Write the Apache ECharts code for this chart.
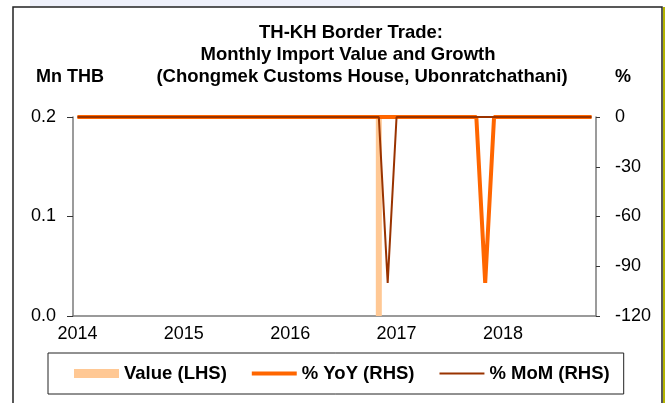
<!DOCTYPE html>
<html>
<head>
<meta charset="utf-8">
<script src="https://cdn.jsdelivr.net/npm/echarts@6/dist/echarts.min.js"></script>
<style>
  html, body { margin: 0; padding: 0; background: #fff; }
  #chart { width: 667px; height: 403px; }
</style>
</head>
<body>
<div id="chart"></div>
<script>
// months Jan 2014 .. Nov 2018
var years = ['2014', '2015', '2016', '2017', '2018'];
var months = [];
years.forEach(function (y) {
  for (var m = 1; m <= 12; m++) {
    if (y === '2018' && m > 11) break;
    months.push(y + '-' + (m < 10 ? '0' + m : m));
  }
});

// Value (LHS), Mn THB
var valueLHS = [
  0, 0, 0, 0, 0, 0, 0, 0, 0, 0, 0, 0,
  0, 0, 0, 0, 0, 0, 0, 0, 0, 0, 0, 0,
  0, 0, 0, 0, 0, 0, 0, 0, 0, 0, 0.2, 0,
  0, 0, 0, 0, 0, 0, 0, 0, 0, 0, 0, 0,
  0, 0, 0, 0, 0, 0, 0, 0, 0, 0, 0
];
// % YoY (RHS)
var yoyRHS = [
  0, 0, 0, 0, 0, 0, 0, 0, 0, 0, 0, 0,
  0, 0, 0, 0, 0, 0, 0, 0, 0, 0, 0, 0,
  0, 0, 0, 0, 0, 0, 0, 0, 0, 0, 0, 0,
  0, 0, 0, 0, 0, 0, 0, 0, 0, 0, -100, 0,
  0, 0, 0, 0, 0, 0, 0, 0, 0, 0, 0
];
// % MoM (RHS)
var momRHS = [
  0, 0, 0, 0, 0, 0, 0, 0, 0, 0, 0, 0,
  0, 0, 0, 0, 0, 0, 0, 0, 0, 0, 0, 0,
  0, 0, 0, 0, 0, 0, 0, 0, 0, 0, 0, -100,
  0, 0, 0, 0, 0, 0, 0, 0, 0, 0, 0, 0,
  0, 0, 0, 0, 0, 0, 0, 0, 0, 0, 0
];

var font = 'Liberation Sans, Arial, sans-serif';
var axisGray = '#7a7a7a';
// legend line icons: thin invisible points at top/bottom keep the box 45x9
var thickLine = 'path://M0,0L45,0L45,0.01ZM0,2.5L45,2.5L45,6.5L0,6.5ZM0,9L45,9L45,9.01Z';
var thinLine = 'path://M0,0L45,0L45,0.01ZM0,3.5L45,3.5L45,5.5L0,5.5ZM0,9L45,9L45,9.01Z';

var myChart = echarts.init(document.getElementById('chart'));
var option = {
  animation: false,
  backgroundColor: '#fff',
  textStyle: { fontFamily: font },
  graphic: [
    { type: 'rect', shape: { x: 30, y: 0, width: 330, height: 7 }, style: { fill: '#eef0fa' }, silent: true },
    { type: 'rect', shape: { x: 13, y: 7, width: 649, height: 410 }, style: { fill: null, stroke: '#222', lineWidth: 1.5 }, silent: true },
    { type: 'line', shape: { x1: 664, y1: 7, x2: 664, y2: 403 }, style: { stroke: '#b3b300', lineWidth: 2 }, silent: true },
    { type: 'text', x: 351, y: 33, style: { text: 'TH-KH Border Trade:', font: 'bold 18.5px ' + font, fill: '#000', textAlign: 'center', textVerticalAlign: 'middle' } },
    { type: 'text', x: 348, y: 55, style: { text: 'Monthly Import Value and Growth', font: 'bold 18.5px ' + font, fill: '#000', textAlign: 'center', textVerticalAlign: 'middle' } },
    { type: 'text', x: 362, y: 77, style: { text: '(Chongmek Customs House, Ubonratchathani)', font: 'bold 18.5px ' + font, fill: '#000', textAlign: 'center', textVerticalAlign: 'middle' } },
    { type: 'text', x: 36, y: 77, style: { text: 'Mn THB', font: 'bold 18px ' + font, fill: '#000', textAlign: 'left', textVerticalAlign: 'middle' } },
    { type: 'text', x: 615, y: 77, style: { text: '%', font: 'bold 18px ' + font, fill: '#000', textAlign: 'left', textVerticalAlign: 'middle' } }
  ],
  legend: {
    left: 48,
    top: 353,
    padding: [11, 14, 11, 26],
    borderColor: '#222',
    borderWidth: 1,
    itemWidth: 45,
    itemHeight: 9,
    itemGap: 25,
    textStyle: { fontSize: 18.5, fontWeight: 'bold', color: '#000', fontFamily: font },
    data: [
      { name: 'Value (LHS)', icon: 'rect' },
      { name: '% YoY (RHS)', icon: thickLine },
      { name: '% MoM (RHS)', icon: thinLine }
    ]
  },
  grid: { left: 73, right: 71, top: 117, bottom: 87, containLabel: false },
  xAxis: {
    type: 'category',
    data: months,
    boundaryGap: true,
    axisLine: { lineStyle: { color: axisGray, width: 1.5 } },
    axisTick: {
      length: 5,
      interval: function (i) { return i % 12 === 0; },
      lineStyle: { color: '#333' }
    },
    axisLabel: {
      interval: function (i) { return i % 12 === 0; },
      formatter: function (v) { return v.slice(0, 4); },
      color: '#000',
      fontSize: 18,
      margin: 9
    },
    splitLine: { show: false }
  },
  yAxis: [{
    type: 'value',
    position: 'left',
    min: 0,
    max: 0.2,
    interval: 0.1,
    axisLine: { show: true, lineStyle: { color: axisGray, width: 1.5 } },
    axisTick: { show: true, length: 6, lineStyle: { color: '#333' } },
    axisLabel: {
      formatter: function (v) { return v.toFixed(1); },
      color: '#000',
      fontSize: 18,
      margin: 17
    },
    splitLine: { show: false }
  }, {
    type: 'value',
    position: 'right',
    min: -120,
    max: 0,
    interval: 30,
    axisLine: { show: true, lineStyle: { color: axisGray, width: 1.5 } },
    axisTick: { show: true, length: 4, lineStyle: { color: '#333' } },
    axisLabel: { color: '#000', fontSize: 18, margin: 19 },
    splitLine: { show: false }
  }],
  series: [{
    name: 'Value (LHS)',
    type: 'bar',
    yAxisIndex: 0,
    barWidth: 6,
    itemStyle: { color: '#ffc894' },
    data: valueLHS
  }, {
    name: '% YoY (RHS)',
    type: 'line',
    yAxisIndex: 1,
    symbol: 'none',
    lineStyle: { color: '#ff6600', width: 4 },
    itemStyle: { color: '#ff6600' },
    data: yoyRHS
  }, {
    name: '% MoM (RHS)',
    type: 'line',
    yAxisIndex: 1,
    symbol: 'none',
    lineStyle: { color: '#993300', width: 2 },
    itemStyle: { color: '#993300' },
    data: momRHS
  }]
};
myChart.setOption(option);
</script>
</body>
</html>
